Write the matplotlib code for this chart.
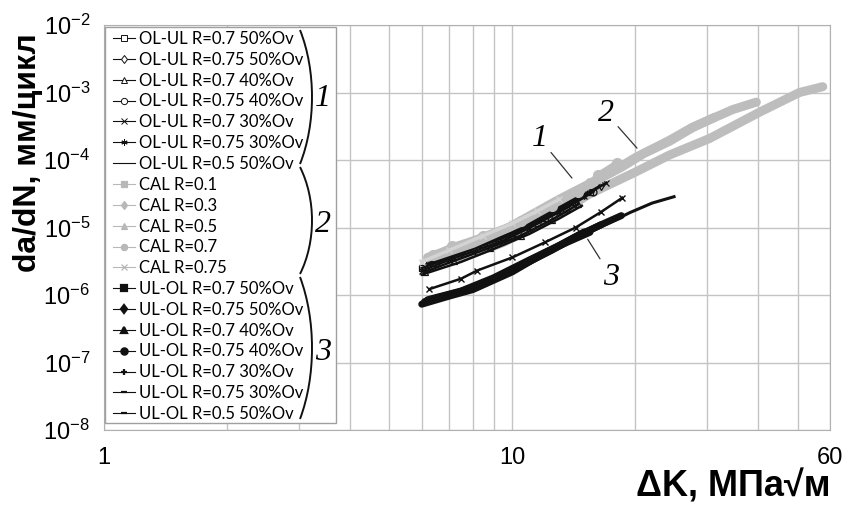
import numpy as np
import matplotlib
matplotlib.use("Agg")
import matplotlib.pyplot as plt
from matplotlib.lines import Line2D
from matplotlib.patches import Rectangle, PathPatch
from matplotlib.path import Path
from matplotlib import font_manager

# --- DATA ---------------------------------------------------------------
# group 1: OL-UL
olul_labels = ["OL-UL R=0.7 50%Ov", "OL-UL R=0.75 50%Ov", "OL-UL R=0.7 40%Ov",
               "OL-UL R=0.75 40%Ov", "OL-UL R=0.7 30%Ov", "OL-UL R=0.75 30%Ov",
               "OL-UL R=0.5 50%Ov"]
olul_dk = [
    [6.0, 7.0, 8.5, 10.0, 12.0, 14.0, 15.5],
    [6.2, 7.5, 9.0, 11.0, 13.0, 15.0, 16.5],
    [6.1, 7.2, 8.8, 10.5, 12.5, 14.5],
    [6.5, 8.0, 9.5, 11.5, 13.5, 15.8],
    [6.0, 7.0, 8.0, 9.5, 11.0, 13.0, 15.0, 17.0],
    [6.3, 7.8, 9.2, 11.0, 12.8, 14.2],
    [6.0, 7.5, 9.0, 11.0, 13.0, 14.8],
]
olul_rate = [
    [2.5e-6, 3.6e-6, 5.6e-6, 8.2e-6, 1.4e-5, 2.4e-5, 3.4e-5],
    [2.9e-6, 4.3e-6, 6.6e-6, 1.1e-5, 1.9e-5, 3.1e-5, 4.2e-5],
    [2.2e-6, 3.2e-6, 5.0e-6, 7.6e-6, 1.3e-5, 2.2e-5],
    [3.0e-6, 4.8e-6, 7.0e-6, 1.15e-5, 1.9e-5, 3.4e-5],
    [2.3e-6, 3.3e-6, 4.4e-6, 6.4e-6, 9.8e-6, 1.7e-5, 2.9e-5, 4.6e-5],
    [3.1e-6, 4.9e-6, 7.6e-6, 1.2e-5, 1.9e-5, 2.7e-5],
    [2.0e-6, 3.1e-6, 4.8e-6, 8.0e-6, 1.35e-5, 2.1e-5],
]

# group 2: CAL
cal_labels = ["CAL R=0.1", "CAL R=0.3", "CAL R=0.5", "CAL R=0.7", "CAL R=0.75"]
cal_dk = [
    [7.5, 9.5, 12.3, 15.4, 20.0, 24.3, 30.4, 40.3, 50.5, 57.6],
    [6.2, 7.5, 9.8, 13.0, 15.4, 17.3, 20.1, 24.3, 27.6, 34.7, 39.6],
    [6.5, 8.0, 10.5, 13.5, 16.0, 18.5, 21.0, 24.3, 27.6, 31.3],
    [6.4, 7.1, 8.5, 10.5, 12.5, 14.5, 15.5, 16.2, 18.0],
    [6.0, 7.0, 8.5, 10.0, 11.5, 13.0],
]
cal_rate = [
    [3.6e-6, 6.0e-6, 1.3e-5, 3.1e-5, 6.6e-5, 1.19e-4, 2.08e-4, 5.1e-4, 1.0e-3, 1.22e-3],
    [3.6e-6, 5.4e-6, 1.0e-5, 2.6e-5, 4.4e-5, 6.4e-5, 1.1e-4, 1.97e-4, 3.05e-4, 5.6e-4, 7.2e-4],
    [3.8e-6, 5.8e-6, 1.2e-5, 2.8e-5, 4.9e-5, 7.8e-5, 1.25e-4, 1.9e-4, 3.0e-4, 4.3e-4],
    [3.9e-6, 5.3e-6, 7.5e-6, 1.25e-5, 2.1e-5, 3.4e-5, 4.5e-5, 6.0e-5, 9.0e-5],
    [3.1e-6, 4.6e-6, 7.6e-6, 1.15e-5, 1.75e-5, 2.6e-5],
]

# group 3: UL-OL
ulol_labels = ["UL-OL R=0.7 50%Ov", "UL-OL R=0.75 50%Ov", "UL-OL R=0.7 40%Ov",
               "UL-OL R=0.75 40%Ov", "UL-OL R=0.7 30%Ov", "UL-OL R=0.75 30%Ov",
               "UL-OL R=0.5 50%Ov"]
ulol_dk = [
    [6.0, 7.0, 8.0, 10.0, 12.0, 13.6, 15.5],
    [6.1, 7.2, 8.5, 10.5, 12.5, 14.5, 16.5],
    [6.2, 7.5, 9.0, 11.0, 13.0, 15.0],
    [6.5, 7.8, 9.5, 11.5, 14.0, 16.5, 18.5],
    [6.26, 7.5, 8.2, 10.0, 12.0, 14.3, 16.5, 18.6],
    [6.0, 7.0, 8.2, 10.0, 12.5, 15.0, 17.5],
    [9.0, 11.0, 13.6, 16.5, 19.4, 22.0, 24.9],
]
ulol_rate = [
    [7.3e-7, 9.6e-7, 1.2e-6, 2.2e-6, 4.2e-6, 6.0e-6, 8.5e-6],
    [8.0e-7, 1.05e-6, 1.45e-6, 2.7e-6, 4.6e-6, 7.6e-6, 1.1e-5],
    [8.5e-7, 1.15e-6, 1.8e-6, 3.3e-6, 5.4e-6, 8.6e-6],
    [9.0e-7, 1.2e-6, 2.0e-6, 3.6e-6, 6.8e-6, 1.1e-5, 1.5e-5],
    [1.22e-6, 1.75e-6, 2.3e-6, 3.6e-6, 6.0e-6, 1.0e-5, 1.7e-5, 2.76e-5],
    [7.8e-7, 1.0e-6, 1.4e-6, 2.4e-6, 4.6e-6, 8.2e-6, 1.3e-5],
    [1.7e-6, 3.0e-6, 5.9e-6, 1.02e-5, 1.66e-5, 2.3e-5, 2.86e-5],
]

x_ticks = [1, 10, 60]
x_ticklabels = ["1", "10", "60"]
y_ticks = [1e-8, 1e-7, 1e-6, 1e-5, 1e-4, 1e-3, 1e-2]
y_ticklabels = [r"$\mathregular{10^{-%d}}$" % k for k in range(8, 1, -1)]

# --- STYLE -------------------------------------------------------------
BLACK = "#111111"
GRAY = "#bdbdbd"
GRID = "#c4c4c4"
W, H = 848, 507

names = {f.name for f in font_manager.fontManager.ttflist}
NARROW = "Liberation Sans Narrow" if "Liberation Sans Narrow" in names else "Liberation Sans"
LEGFONT = "Lato" if "Lato" in names else "DejaVu Sans"
plt.rcParams["font.family"] = ["Liberation Sans", "DejaVu Sans"]

def fx(px):
    return px / W

def fy(py):
    return 1 - py / H

olul_marks = ["s", "d", "^", "o", "x", (6, 2, 0), None]
cal_marks = ["s", "d", "^", "o", "x"]
ulol_marks = ["s", "d", "^", "o", "+", "_", "_"]

fig = plt.figure(figsize=(W / 100, H / 100), dpi=100)
ax = fig.add_axes([fx(104), fy(430), fx(830) - fx(104), fy(25) - fy(430)])
ax.set_xscale("log")
ax.set_yscale("log")
ax.set_xlim(1, 60)
ax.set_ylim(1e-8, 1e-2)

# --- CURVES ------------------------------------------------------------
# CAL (grey, thick bands); R=0.1 sits under the black, the rest on top
for i, (dk, r) in enumerate(zip(cal_dk, cal_rate)):
    if i == 4:
        ax.plot(dk, r, color="#d3d3d3", lw=2.5, marker="x", ms=5, zorder=3.5)
    elif i == 3:
        ax.plot(dk, r, color=GRAY, lw=4, marker="o", ms=7, zorder=3.5)
    else:
        ax.plot(dk, r, color=GRAY, lw=6.5, solid_capstyle="round",
                solid_joinstyle="round", zorder=2 if i == 0 else 3.5)

# OL-UL (black, thin hatched)
for i, (dk, r) in enumerate(zip(olul_dk, olul_rate)):
    m = olul_marks[i]
    ax.plot(dk, r, color=BLACK, lw=1.8, marker=m, ms=5, mfc="none",
            mew=0.9, zorder=3)

# UL-OL (black, thick)
for i, (dk, r) in enumerate(zip(ulol_dk, ulol_rate)):
    if i < 4:
        ax.plot(dk, r, color=BLACK, lw=5, solid_capstyle="round", zorder=3)
    elif i == 4:
        ax.plot(dk, r, color=BLACK, lw=1.8, marker="x", ms=4, zorder=3)
    else:
        ax.plot(dk, r, color=BLACK, lw=2.2, zorder=3)

# --- AXES --------------------------------------------------------------
ax.set_xticks(x_ticks)
ax.set_xticklabels(x_ticklabels)
ax.set_xticks([2, 3, 4, 5, 6, 7, 8, 9, 20, 30, 40, 50], minor=True)
ax.xaxis.set_minor_formatter(plt.NullFormatter())
ax.set_yticks(y_ticks)
ax.set_yticklabels(y_ticklabels)
ax.yaxis.set_minor_locator(plt.NullLocator())
ax.tick_params(axis="both", which="both", length=0)
ax.tick_params(axis="x", labelsize=17, pad=12)
ax.tick_params(axis="y", labelsize=17, pad=10)
ax.grid(True, which="major", color=GRID, lw=1)
ax.grid(True, which="minor", axis="x", color=GRID, lw=1)
ax.set_axisbelow(True)
for s in ax.spines.values():
    s.set_color("#b0b0b0")

# leader labels inside the plot
lead = dict(arrowstyle="-", color="#333333", lw=0.9, shrinkA=1, shrinkB=0)
for txt, xy, xyt in [("1", (14.0, 5.4e-5), (11.65, 2.1e-4)),
                     ("2", (20.2, 1.5e-4), (17.0, 4.9e-4)),
                     ("3", (15.3, 6.7e-6), (17.5, 1.84e-6))]:
    ax.annotate(txt, xy=xy, xytext=xyt, ha="center", va="center",
                fontsize=23, family="Liberation Serif", style="italic",
                arrowprops=lead, zorder=5)

# --- LEGEND ------------------------------------------------------------
handles = []
for m in olul_marks:
    handles.append(Line2D([], [], color=BLACK, lw=0.8, marker=m, ms=4.5,
                          mfc="white", mew=0.7))
for m in cal_marks:
    handles.append(Line2D([], [], color="#b8b8b8", lw=0.8, marker=m, ms=4.5,
                          mew=0.9))
for m in ulol_marks:
    handles.append(Line2D([], [], color=BLACK, lw=0.8, marker=m, ms=4.5,
                          mew=1.6))
labels = olul_labels + cal_labels + ulol_labels

fig.add_artist(Rectangle((fx(105), fy(423)), fx(336) - fx(105), fy(27) - fy(423),
                         transform=fig.transFigure, facecolor="white",
                         edgecolor="#a0a0a0", lw=1, zorder=4))
leg = fig.legend(handles, labels, loc="upper left",
                 bbox_to_anchor=(fx(113), fy(31)), frameon=False,
                 prop={"family": LEGFONT, "size": 12}, handlelength=1.3,
                 handletextpad=0.25, labelspacing=0.29, borderpad=0,
                 borderaxespad=0)
leg.set_zorder(5)

# braces and group numbers
for y0, y1, num, ylab in [(30, 164, "1", 99), (167, 274, "2", 224), (277, 419, "3", 353)]:
    h = y1 - y0
    verts = [(fx(300), fy(y0)), (fx(316), fy(y0 + 0.3 * h)),
             (fx(316), fy(y0 + 0.7 * h)), (fx(300), fy(y1))]
    path = Path(verts, [Path.MOVETO, Path.CURVE4, Path.CURVE4, Path.CURVE4])
    fig.add_artist(PathPatch(path, fill=False, lw=1.4, edgecolor=BLACK,
                             transform=fig.transFigure, zorder=6))
    fig.text(fx(323), fy(ylab), num, ha="center", va="center", fontsize=23,
             family="Liberation Serif", style="italic", zorder=6)

# --- AXIS TITLES -------------------------------------------------------
fig.text(fx(28), fy(153), "da/dN, мм/цикл", rotation=90, ha="center",
         va="center", fontsize=23, fontweight="bold", family=[NARROW, "DejaVu Sans"])
fig.text(fx(830), fy(497), "ΔK, МПа√м", ha="right", va="baseline",
         fontsize=26, fontweight="bold", family=["Liberation Sans", "DejaVu Sans"])

fig.savefig("out.png", dpi=100)
